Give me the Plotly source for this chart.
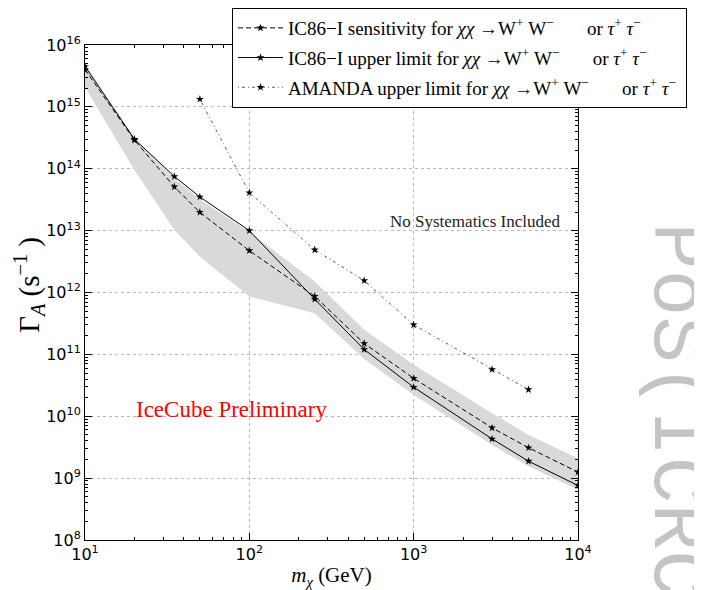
import plotly.graph_objects as go

# ---------------- data ----------------
mass = [10, 20, 35, 50, 100, 250, 500, 1000, 3000, 5000, 10000]
sensitivity = [4.0e15, 2.9e14, 5.1e13, 1.98e13, 4.75e12, 8.7e11, 1.5e11, 4.1e10, 6.5e9, 3.1e9, 1.25e9]
upper_limit = [4.5e15, 3.0e14, 7.5e13, 3.5e13, 1.0e13, 7.8e11, 1.2e11, 2.95e10, 4.3e9, 1.88e9, 7.6e8]
band_upper = [5.0e15, 3.1e14, 7.0e13, 3.2e13, 9.5e12, 1.5e12, 2.5e11, 6.8e10, 1.12e10, 5.0e9, 2.1e9]
band_lower = [2.1e15, 9.5e13, 1.02e13, 3.8e12, 8.6e11, 4.6e11, 8.4e10, 2.2e10, 3.45e9, 1.55e9, 6.5e8]

amanda_mass = [50, 100, 250, 500, 1000, 3000, 5000]
amanda_limit = [1.33e15, 4.1e13, 4.9e12, 1.56e12, 3.0e11, 5.7e10, 2.7e10]

x_tickvals = [10, 100, 1000, 10000]
x_ticktext = ["10<sup>1</sup>", "10<sup>2</sup>", "10<sup>3</sup>", "10<sup>4</sup>"]
y_exps = list(range(8, 17))
y_tickvals = [10 ** e for e in y_exps]
y_ticktext = ["10<sup>%d</sup>" % e for e in y_exps]

NB = "\u00a0"
chan = ("for <i>χχ</i> →W<sup>+</sup>" + NB + "W<sup>−</sup>" + NB * 7 +
        "or <i>τ</i><sup>+</sup>" + NB + "<i>τ</i><sup>−</sup>" + NB)
names = ["IC86−I sensitivity " + chan,
         "IC86−I upper limit " + chan,
         "AMANDA upper limit " + chan]

SERIF = "Liberation Serif, DejaVu Serif, serif"
SANS = "DejaVu Sans, sans-serif"

fig = go.Figure()

# systematic band
fig.add_trace(go.Scatter(
    x=mass + mass[::-1], y=band_upper + band_lower[::-1],
    fill="toself", fillcolor="#d9d9d9", line=dict(width=0),
    mode="lines", hoverinfo="skip", showlegend=False))

fig.add_trace(go.Scatter(
    x=mass, y=sensitivity, name=names[0], mode="lines+markers", legendgroup="a",
    line=dict(color="black", width=1, dash="5px,3px"),
    marker=dict(symbol="star", size=6, color="black")))
fig.add_trace(go.Scatter(
    x=mass, y=upper_limit, name=names[1], mode="lines+markers", legendgroup="b",
    line=dict(color="black", width=1),
    marker=dict(symbol="star", size=6, color="black")))
fig.add_trace(go.Scatter(
    x=amanda_mass, y=amanda_limit, name=names[2], mode="lines+markers", legendgroup="c",
    line=dict(color="#333333", width=0.8, dash="1px,3px,3px,3px"),
    marker=dict(symbol="star", size=6, color="black")))

axis_common = dict(
    type="log", showline=True, linecolor="black", linewidth=1, mirror="ticks",
    ticks="inside", ticklen=7, tickcolor="black",
    showgrid=True, gridcolor="#b8b8b8", griddash="dot", gridwidth=1,
    zeroline=False,
    tickfont=dict(family=SANS, size=16, color="black"),
    minor=dict(ticks="inside", ticklen=3, tickcolor="black", showgrid=False, dtick="D1"),
)

fig.update_xaxes(**axis_common, range=[1, 4], tickvals=x_tickvals, ticktext=x_ticktext,
                 title=dict(text="<i>m</i><sub><i>χ</i></sub> (GeV)",
                            font=dict(family=SERIF, size=21, color="black"), standoff=4))
fig.update_yaxes(**axis_common, range=[8, 16], tickvals=y_tickvals, ticktext=y_ticktext)

# y-axis title as a rotated annotation on the left
fig.add_annotation(text="Γ<sub><i>A</i></sub>" + NB + "(s<sup>−1</sup>" + NB + ")",
                   xref="paper", yref="paper",
                   x=-0.114, y=0.515, xanchor="center", yanchor="middle", showarrow=False,
                   textangle=-90, font=dict(family=SERIF, size=29, color="black"))
fig.add_annotation(text="No Systematics Included", xref="paper", yref="paper",
                   x=0.9675, y=0.6444, xanchor="right", yanchor="middle", showarrow=False,
                   font=dict(family=SERIF, size=17, color="#222222"))
fig.add_annotation(text="IceCube Preliminary", xref="paper", yref="paper",
                   x=0.298, y=0.2646, xanchor="center", yanchor="middle", showarrow=False,
                   font=dict(family=SERIF, size=23, color="red"))
fig.add_annotation(text="PoS(ICRC2015)", xref="paper", yref="paper",
                   x=1.198, y=0.645, xanchor="center", yanchor="top", showarrow=False,
                   textangle=90,
                   font=dict(family="Liberation Mono, monospace", size=78, color="#c4c4c4"))

# the page adds an 8px body margin, so margins are reduced by 8px on left/top
fig.update_layout(
    width=702, height=590,
    margin=dict(l=77, r=132, t=37, b=58, autoexpand=False),
    paper_bgcolor="white", plot_bgcolor="white",
    legend=dict(xref="container", yref="container", x=224 / 702, y=1.0,
                xanchor="left", yanchor="top",
                bgcolor="white", bordercolor="black", borderwidth=1,
                font=dict(family=SERIF, size=19, color="black"),
                itemwidth=45, tracegroupgap=2),
)

fig.write_html("out.html")
